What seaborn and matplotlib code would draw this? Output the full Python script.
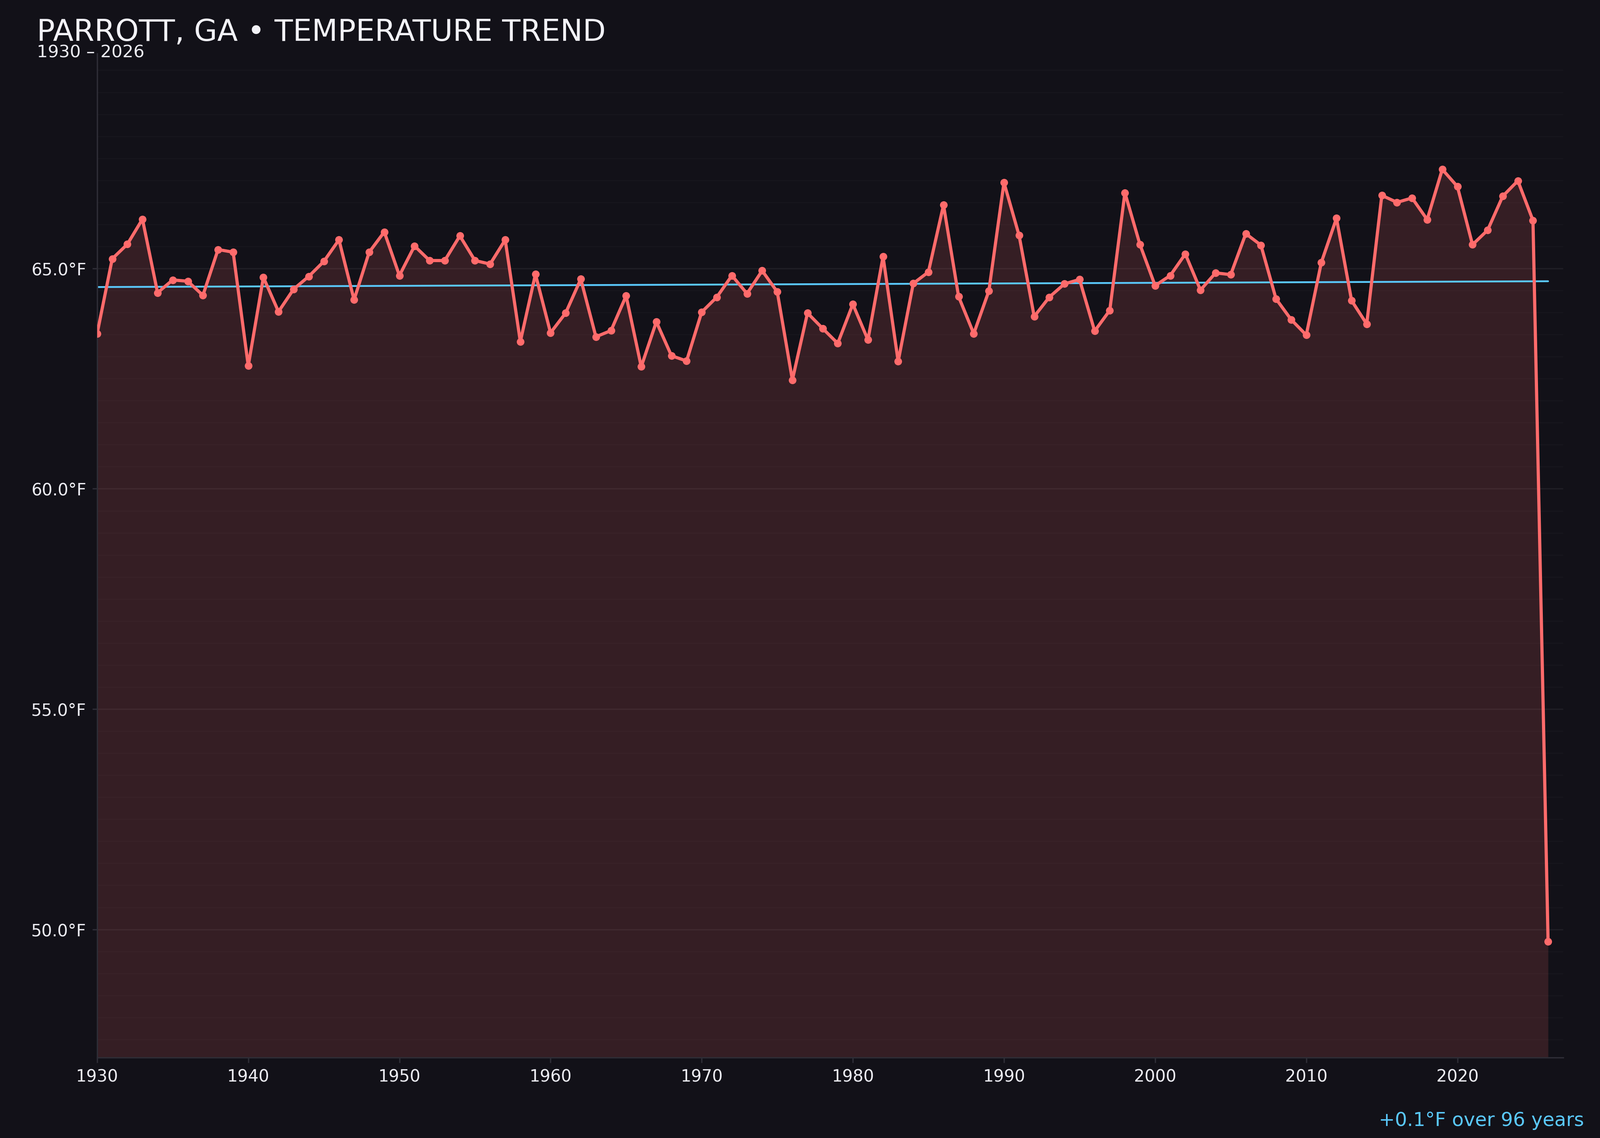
import numpy as np
import pandas as pd
import matplotlib
matplotlib.use("Agg")
import matplotlib.pyplot as plt
import seaborn as sns
from matplotlib.ticker import MultipleLocator, FuncFormatter

# annual mean temperature, Parrott GA
years = list(range(1930, 2027))
temps = [
    63.52, 65.22, 65.55, 66.12, 64.45, 64.74, 64.71, 64.39, 65.43, 65.37,  # 1930s
    62.79, 64.80, 64.02, 64.53, 64.82, 65.16, 65.65, 64.29, 65.37, 65.83,  # 1940s
    64.84, 65.51, 65.18, 65.18, 65.74, 65.18, 65.10, 65.65, 63.34, 64.87,  # 1950s
    63.54, 63.99, 64.76, 63.45, 63.59, 64.38, 62.77, 63.79, 63.02, 62.90,  # 1960s
    64.01, 64.35, 64.84, 64.43, 64.95, 64.47, 62.47, 63.99, 63.64, 63.30,  # 1970s
    64.19, 63.38, 65.27, 62.89, 64.66, 64.92, 66.44, 64.36, 63.52, 64.49,  # 1980s
    66.95, 65.75, 63.91, 64.35, 64.65, 64.75, 63.58, 64.05, 66.72, 65.54,  # 1990s
    64.61, 64.84, 65.33, 64.51, 64.90, 64.86, 65.79, 65.53, 64.31, 63.84,  # 2000s
    63.49, 65.14, 66.14, 64.27, 63.74, 66.66, 66.50, 66.60, 66.11, 67.25,  # 2010s
    66.86, 65.54, 65.87, 66.64, 66.99, 66.09, 49.72,                        # 2020s
]
title = "PARROTT, GA \u2022 TEMPERATURE TREND"
subtitle = "1930 \u2013 2026"
trend_note = "+0.1\u00b0F over 96 years"

BG = "#121118"
RED = "#ff6b6b"
BLUE = "#5ac8fa"
TXT = "#ececf2"
SPINE = "#2e2d36"

sns.set_theme(style="dark", rc={
    "figure.facecolor": BG,
    "axes.facecolor": BG,
    "axes.edgecolor": SPINE,
    "xtick.color": SPINE,
    "ytick.color": SPINE,
})
plt.rcParams["font.family"] = ["DejaVu Sans"]

df = pd.DataFrame({"year": years, "temp": temps})

fig, ax = plt.subplots(figsize=(4000 / 300, 2844 / 300), dpi=300)
fig.subplots_adjust(left=0.0607, right=0.977, bottom=0.0707, top=0.953)

rng = df["temp"].max() - df["temp"].min()
ymin = df["temp"].min() - 0.15 * rng
ymax = df["temp"].max() + 0.15 * rng

ax.fill_between(df["year"], df["temp"], ymin, color=RED, alpha=0.15, lw=0, zorder=1)
sns.lineplot(data=df, x="year", y="temp", ax=ax, color=RED, lw=1.9,
             marker="o", markersize=4.6, markeredgewidth=0, zorder=3)

# linear trend
coef = np.polyfit(df["year"], df["temp"], 1)
trend = np.polyval(coef, df["year"])
sns.lineplot(x=df["year"], y=trend, ax=ax, color=BLUE, lw=1.1, zorder=2)

ax.set_xlim(1930, 2027)
ax.set_ylim(ymin, ymax)
ax.xaxis.set_major_locator(MultipleLocator(10))
ax.yaxis.set_major_locator(MultipleLocator(5))
ax.yaxis.set_minor_locator(MultipleLocator(0.5))
ax.yaxis.set_major_formatter(FuncFormatter(lambda v, p: f"{v:.1f}\u00b0F"))

ax.grid(False)
ax.grid(axis="y", which="major", color="white", alpha=0.06, lw=0.8)
ax.grid(axis="y", which="minor", color="white", alpha=0.022, lw=0.6)

ax.tick_params(axis="both", which="major", labelsize=10, labelcolor=TXT,
               length=3, width=0.8, color=SPINE, bottom=True, left=True)
ax.tick_params(axis="y", which="minor", length=0)
ax.set_xlabel("")
ax.set_ylabel("")

for side in ["top", "right"]:
    ax.spines[side].set_visible(False)
for side in ["left", "bottom"]:
    ax.spines[side].set_color(SPINE)
    ax.spines[side].set_linewidth(0.8)

fig.text(0.023, 0.964, title, fontsize=18, color="#f2f2f7", va="baseline")
fig.text(0.023, 0.9495, subtitle, fontsize=10.4, color=TXT, va="baseline")
fig.text(0.99, 0.0105, trend_note, fontsize=11.5, color=BLUE, ha="right", va="baseline")

fig.savefig("out.png", dpi=300, facecolor=BG)
